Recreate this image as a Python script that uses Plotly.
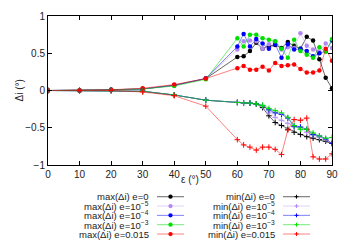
import plotly.graph_objects as go

# incidence angle (deg)
eps = [0, 10, 20, 30, 40, 50, 60, 62, 64, 66, 68, 70, 72, 74, 76, 78, 80, 82, 84, 86, 88, 90]

max_e0 = [0, 0, 0.01, 0.02, 0.07, 0.16, 0.45, 0.46, 0.53, 0.64, 0.56, 0.60, 0.61, 0.57,
          0.65, 0.60, 0.56, 0.72, 0.67, 0.42, 0.17, 0.03]
max_e5 = [0, 0, 0.01, 0.02, 0.07, 0.16, 0.55, 0.66, 0.67, 0.66, 0.56, 0.62, 0.66, 0.55,
          0.58, 0.57, 0.77, 0.60, 0.55, 0.52, 0.63, 0.57]
max_e4 = [0, 0, 0.01, 0.02, 0.07, 0.16, 0.59, 0.76, 0.59, 0.69, 0.63, 0.56, 0.62, 0.44,
          0.62, 0.55, 0.56, 0.53, 0.46, 0.50, 0.53, 0.67]
max_e3 = [0, 0, 0.01, 0.02, 0.06, 0.15, 0.70, 0.59, 0.75, 0.75, 0.70, 0.68, 0.66, 0.56,
          0.44, 0.68, 0.53, 0.48, 0.44, 0.58, 0.52, 0.69]
max_e15 = [0, 0, 0.01, 0.03, 0.08, 0.16, 0.30, 0.33, 0.28, 0.28, 0.32, 0.27, 0.37, 0.33,
           0.34, 0.35, 0.29, 0.24, 0.24, 0.27, 0.56, 0.40]

min_e0 = [0, 0, 0, -0.01, -0.06, -0.13, -0.16, -0.165, -0.17, -0.18, -0.23, -0.34, -0.43,
          -0.47, -0.52, -0.56, -0.59, -0.62, -0.64, -0.66, -0.68, -0.71]
min_e5 = [0, 0, 0, -0.01, -0.06, -0.13, -0.16, -0.165, -0.17, -0.18, -0.21, -0.29, -0.36,
          -0.40, -0.44, -0.49, -0.52, -0.56, -0.60, -0.63, -0.66, -0.71]
min_e4 = [0, 0, 0, -0.01, -0.06, -0.13, -0.16, -0.165, -0.17, -0.18, -0.20, -0.26, -0.30,
          -0.32, -0.37, -0.48, -0.49, -0.52, -0.59, -0.61, -0.65, -0.71]
min_e3 = [0, 0, 0, -0.01, -0.06, -0.13, -0.16, -0.165, -0.17, -0.18, -0.20, -0.24, -0.27,
          -0.30, -0.36, -0.47, -0.52, -0.52, -0.57, -0.61, -0.64, -0.63]
min_e15 = [0, 0, 0, -0.02, -0.07, -0.21, -0.66, -0.73, -0.76, -0.80, -0.76, -0.76, -0.79,
           -0.86, -0.53, -0.39, -0.40, -0.37, -0.89, -0.92, -0.92, -0.85]

labels_e = ["e=0", "e=10<sup>−5</sup>", "e=10<sup>−4</sup>", "e=10<sup>−3</sup>", "e=0.015"]
colors = ["#000000", "#b388f5", "#0000ff", "#00e000", "#ff0000"]
line_colors = ["rgba(0,0,0,0.6)", "rgba(190,150,245,0.45)", "rgba(0,0,255,0.5)",
               "rgba(0,220,0,0.55)", "rgba(255,0,0,0.5)"]

max_series = [max_e0, max_e5, max_e4, max_e3, max_e15]
min_series = [min_e0, min_e5, min_e4, min_e3, min_e15]

W, H = 350, 245
ML, MR, MT, MB = 48, 18, 10, 80
PW, PH = W - ML - MR, H - MT - MB


def px(x):
    return (x - ML) / PW


def py(y):
    return (H - MB - y) / PH


fig = go.Figure()

for vals, c, lc in zip(max_series, colors, line_colors):
    fig.add_trace(go.Scatter(
        x=eps, y=vals, mode="lines+markers",
        line=dict(color=lc, width=1),
        marker=dict(symbol="circle", size=4.5, color=c),
        showlegend=False,
    ))
for vals, c, lc in zip(min_series, colors, line_colors):
    fig.add_trace(go.Scatter(
        x=eps, y=vals, mode="lines+markers",
        line=dict(color=lc, width=1),
        marker=dict(symbol="cross-thin", size=4, line=dict(color=c, width=1)),
        showlegend=False,
    ))

# gnuplot-style key below the plot: text right-aligned, sample on the right
rows = [198, 207.7, 217.4, 227.1, 236.8]
shapes = []
annotations = []
for i, (lab, c, lc) in enumerate(zip(labels_e, colors, line_colors)):
    yy = rows[i]
    for kind, tx, l0, l1 in (("max", 151, 157, 184), ("min", 277, 283, 310)):
        annotations.append(dict(
            x=px(tx), y=py(yy), xref="paper", yref="paper",
            xanchor="right", yanchor="middle", showarrow=False,
            text=f"{kind}(Δi) {lab}",
            font=dict(size=9.5, color="#222"),
        ))
        shapes.append(dict(type="line", xref="paper", yref="paper",
                           x0=px(l0), x1=px(l1), y0=py(yy), y1=py(yy),
                           line=dict(color=lc, width=1)))
        mx = (l0 + l1) / 2
        if kind == "max":
            shapes.append(dict(type="circle", xref="paper", yref="paper",
                               x0=px(mx - 2.2), x1=px(mx + 2.2),
                               y0=py(yy - 2.2), y1=py(yy + 2.2),
                               fillcolor=c, line=dict(width=0)))
        else:
            shapes.append(dict(type="line", xref="paper", yref="paper",
                               x0=px(mx - 2), x1=px(mx + 2), y0=py(yy), y1=py(yy),
                               line=dict(color=c, width=1)))
            shapes.append(dict(type="line", xref="paper", yref="paper",
                               x0=px(mx), x1=px(mx), y0=py(yy - 2), y1=py(yy + 2),
                               line=dict(color=c, width=1)))

annotations.append(dict(
    x=px(12), y=py(88), xref="paper", yref="paper", textangle=-90,
    showarrow=False, text="Δi (°)", font=dict(size=10, color="#222"),
))
annotations.append(dict(
    x=px(190), y=py(188), xref="paper", yref="paper",
    showarrow=False, text="ε (°)", font=dict(size=10, color="#222"),
))

axis_style = dict(
    showline=True, linecolor="#000", linewidth=1, mirror="allticks",
    ticks="inside", ticklen=4, tickcolor="#000", showgrid=False, zeroline=False,
    tickfont=dict(size=10, color="#222"),
)
fig.update_xaxes(range=[0, 90], dtick=10, tick0=0, **axis_style)
fig.update_yaxes(range=[-1, 1], tickvals=[-1, -0.5, 0, 0.5, 1], **axis_style)

fig.update_layout(
    width=W, height=H,
    margin=dict(l=ML, r=MR, t=MT, b=MB),
    paper_bgcolor="white", plot_bgcolor="white",
    font=dict(family="Liberation Sans, Arial, sans-serif", size=10, color="#222"),
    shapes=shapes, annotations=annotations,
    showlegend=False,
)

# drop the default page margin so the figure sits at the window origin
fig.write_html(
    "out.html",
    config={"displayModeBar": False, "staticPlot": True},
    post_script=("document.documentElement.style.margin='0';"
                 "document.body.style.margin='0';document.body.style.padding='0';"),
)
